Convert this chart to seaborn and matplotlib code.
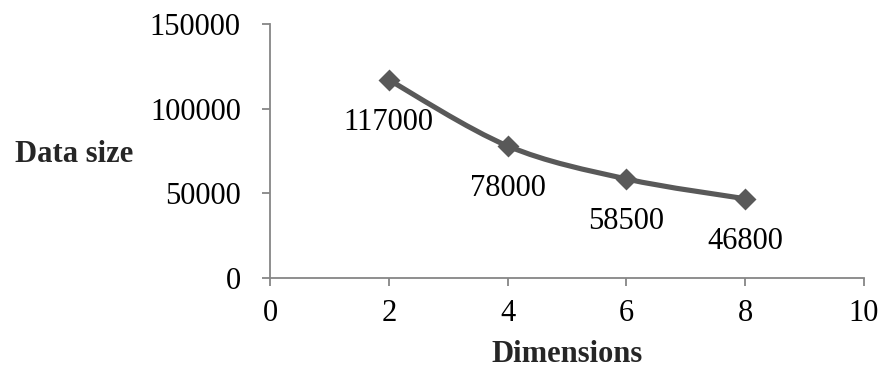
import numpy as np
import matplotlib
matplotlib.use("Agg")
import matplotlib.pyplot as plt
from matplotlib.path import Path
from matplotlib.patches import PathPatch
import seaborn as sns
import pandas as pd

# Data
dimensions = [2, 4, 6, 8]
data_size = [117000, 78000, 58500, 46800]
x_ticks = [0, 2, 4, 6, 8, 10]
y_ticks = [0, 50000, 100000, 150000]

sns.set_theme(style="white")
plt.rcParams["font.family"] = ["Liberation Serif", "DejaVu Serif"]

LINE_COLOR = "#595959"
AXIS_COLOR = "#868686"
FS = 22

fig = plt.figure(figsize=(8.84, 3.74), dpi=100)
W, H = 884, 374
ax = fig.add_axes([270 / W, (H - 278) / H, (864 - 270) / W, (278 - 24) / H])

df = pd.DataFrame({"Dimensions": dimensions, "Data size": data_size})

# Smoothed connecting curve (cubic Bezier segments through the data points)
pts = np.column_stack([dimensions, data_size]).astype(float)
n = len(pts)
verts = [tuple(pts[0])]
codes = [Path.MOVETO]
for i in range(n - 1):
    p0 = pts[max(i - 1, 0)]
    p1 = pts[i]
    p2 = pts[i + 1]
    p3 = pts[min(i + 2, n - 1)]
    c1 = p1 + (p2 - p0) / 6.0
    c2 = p2 - (p3 - p1) / 6.0
    verts += [tuple(c1), tuple(c2), tuple(p2)]
    codes += [Path.CURVE4] * 3
ax.add_patch(PathPatch(Path(verts, codes), facecolor="none", edgecolor=LINE_COLOR,
                       lw=3.7, capstyle="butt", joinstyle="round", zorder=2))

sns.scatterplot(data=df, x="Dimensions", y="Data size", marker="D", s=125,
                color=LINE_COLOR, edgecolor=LINE_COLOR, linewidth=0, ax=ax, zorder=3)

# Value labels below each point
for xv, yv in zip(dimensions, data_size):
    ax.annotate(f"{yv}", (xv, yv), xytext=(0, -31), textcoords="offset points",
                ha="center", va="center", fontsize=FS, color="black")

ax.set_xlim(0, 10)
ax.set_ylim(0, 150000)
ax.set_xticks(x_ticks)
ax.set_yticks(y_ticks)
ax.set_xticklabels([str(t) for t in x_ticks])
ax.set_yticklabels([str(t) for t in y_ticks])

for side in ["top", "right"]:
    ax.spines[side].set_visible(False)
for side in ["left", "bottom"]:
    ax.spines[side].set_color(AXIS_COLOR)
    ax.spines[side].set_linewidth(1.3)

ax.tick_params(axis="both", direction="out", length=6, width=1.3, color=AXIS_COLOR,
               labelsize=FS, labelcolor="black")
ax.tick_params(axis="y", pad=15, left=True)
ax.tick_params(axis="x", pad=9, bottom=True)

ax.set_xlabel("")
ax.set_ylabel("")
fig.text(74 / W, 1 - 155 / H, "Data size", ha="center", va="center",
         fontsize=FS, fontweight="bold")
fig.text(567 / W, 1 - 354 / H, "Dimensions", ha="center", va="center",
         fontsize=FS, fontweight="bold")

fig.savefig("out.png", dpi=100)
